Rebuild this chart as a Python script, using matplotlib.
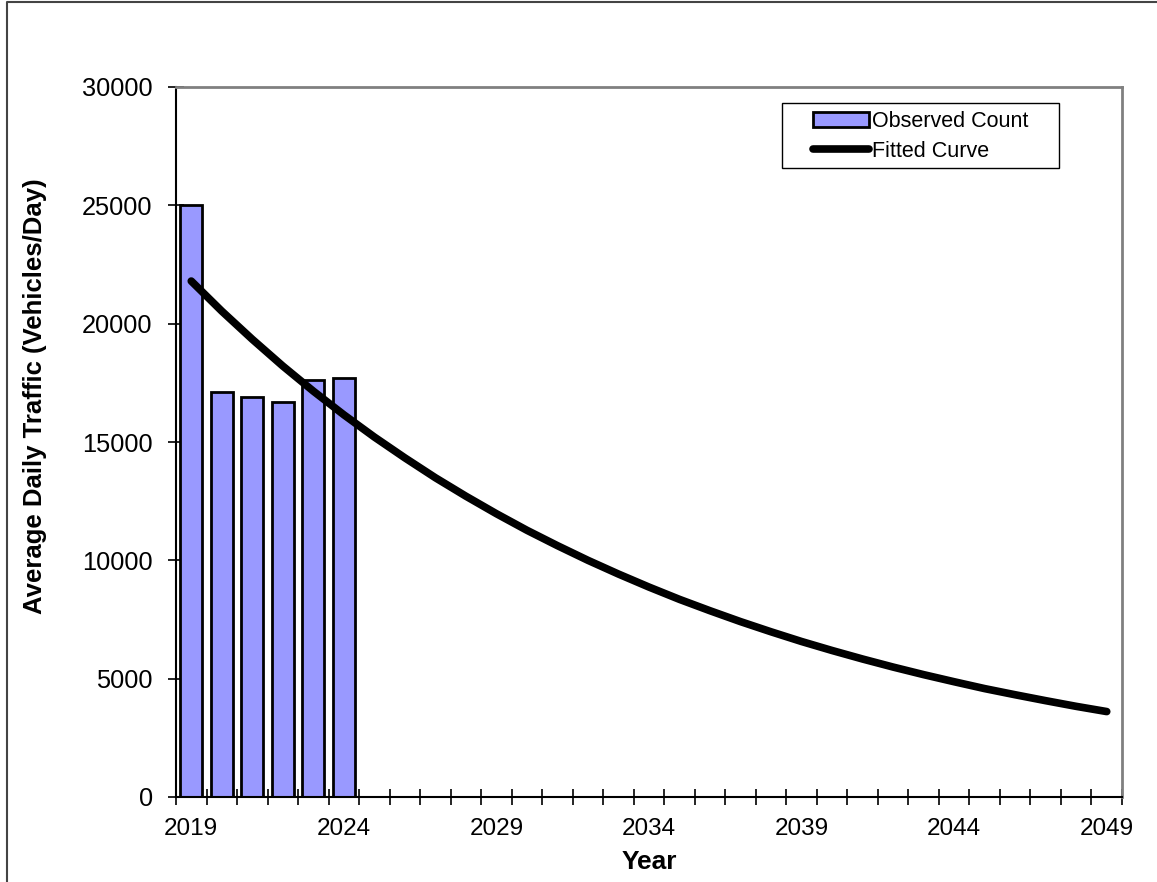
import matplotlib
matplotlib.use("Agg")
import matplotlib.pyplot as plt
from matplotlib.lines import Line2D
from matplotlib.patches import Rectangle
import numpy as np

plt.rcParams['font.family'] = ['Liberation Sans', 'DejaVu Sans']

# observed counts (vehicles/day)
obs_years = [2019, 2020, 2021, 2022, 2023, 2024]
obs_counts = [25000, 17100, 16900, 16700, 17600, 17700]

# fitted curve
fit_years = list(range(2019, 2050))
fit_values = [21800, 20530, 19340, 18210, 17150, 16150, 15210, 14330, 13490, 12710,
              11970, 11270, 10620, 10000, 9420, 8870, 8350, 7870, 7410, 6980,
              6570, 6190, 5830, 5490, 5170, 4870, 4580, 4320, 4070, 3830, 3610]

tick_years = [2019, 2024, 2029, 2034, 2039, 2044, 2049]

W, H = 1157, 882
fig = plt.figure(figsize=(W / 100, H / 100), dpi=100)
ax = fig.add_axes([176 / W, 1 - 797 / H, (1122 - 176) / W, (797 - 87) / H])

x0 = fit_years[0]
obs_x = [y - x0 for y in obs_years]
fit_x = [y - x0 for y in fit_years]

bars = ax.bar(obs_x, obs_counts, width=0.72, color='#9999FF', edgecolor='black',
              linewidth=2, label='Observed Count', zorder=2)
line, = ax.plot(fit_x, fit_values, color='black', linewidth=5.5, solid_capstyle='round',
                label='Fitted Curve', zorder=3)

ax.set_xlim(-0.5, len(fit_years) - 0.5)
ax.set_ylim(0, 30000)
ax.set_yticks(np.arange(0, 30001, 5000))

# category boundaries get the tick marks, labels sit on every 5th year
ax.set_xticks([y - x0 for y in tick_years])
ax.set_xticklabels([str(y) for y in tick_years])
ax.set_xticks(np.arange(-0.5, len(fit_years), 1.0), minor=True)
ax.tick_params(axis='x', which='major', length=0, pad=15, labelsize=17.5)
ax.tick_params(axis='x', which='minor', direction='inout', length=11, width=1.2)
ax.tick_params(axis='y', direction='inout', length=11.5, width=1.2, pad=11,
               labelsize=18.3)

for side in ['left', 'bottom']:
    ax.spines[side].set_color('black')
    ax.spines[side].set_linewidth(1.5)
for side in ['top', 'right']:
    ax.spines[side].set_color('#808080')
    ax.spines[side].set_linewidth(2)

ax.set_xlabel('Year', fontsize=19, fontweight='bold', labelpad=7)
fig.text(35 / W, 1 - 396 / H, 'Average Daily Traffic (Vehicles/Day)', rotation=90,
         fontsize=18.5, fontweight='bold', ha='center', va='center')

# legend box drawn separately (wide side padding, tight vertical padding)
lx0, lx1, ly0, ly1 = 782, 1059, 103, 168
fig.add_artist(Rectangle((lx0 / W, 1 - ly1 / H), (lx1 - lx0) / W, (ly1 - ly0) / H,
                         transform=fig.transFigure, facecolor='white',
                         edgecolor='black', linewidth=1, zorder=4))
leg = fig.legend([bars, line], ['Observed Count', 'Fitted Curve'], loc='center',
                 bbox_to_anchor=((lx0 + lx1) / 2 / W, 1 - (ly0 + ly1 + 2) / 2 / H),
                 fontsize=15.5, frameon=False, handlelength=2.6,
                 handletextpad=0.12, borderpad=0, labelspacing=0.42,
                 borderaxespad=0)
leg.set_zorder(5)

# outer chart border
fig.add_artist(Line2D([7 / W, 7 / W, 1.0], [0.0, 1 - 2 / H, 1 - 2 / H],
                      transform=fig.transFigure, color='#444444', linewidth=1.5))

fig.savefig('out.png', dpi=100)
